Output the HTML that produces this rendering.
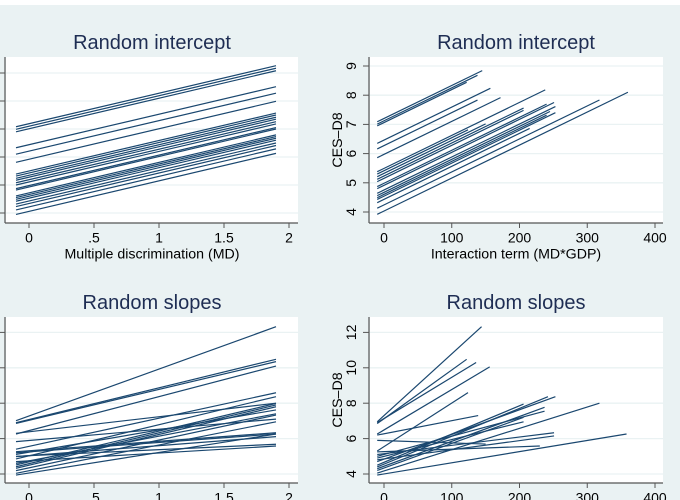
<!DOCTYPE html>
<html><head><meta charset="utf-8">
<style>
html,body{margin:0;padding:0;background:#eaf2f3;}
svg{display:block;font-family:"Liberation Sans",sans-serif;}
</style></head>
<body>
<svg id="chart" width="680" height="500" viewBox="0 0 680 500" xmlns="http://www.w3.org/2000/svg">
<rect x="0" y="0" width="680" height="500" fill="#eaf2f3"/>
<rect x="0" y="0" width="680" height="5" fill="#ffffff"/>
</svg>
<script>
// ---- data ----
const tlTicksX = [0, 0.5, 1, 1.5, 2];
const tlTickLabels = ["0", ".5", "1", "1.5", "2"];
const tlTicksY = [4, 5, 6, 7, 8, 9];
const tlSlope = 1.09;
const tlStarts = [7.08,6.99,6.90,6.33,6.10,5.81,5.39,5.32,5.24,5.17,5.08,5.00,4.87,4.82,4.61,4.55,4.49,4.42,4.32,4.23,4.11,3.95];

const trTicksX = [0, 100, 200, 300, 400];
const trTicksY = [4, 5, 6, 7, 8, 9];
const trSlope = 0.0113;
const trStarts = [7.09,7.01,6.95,6.35,6.16,5.86,5.38,5.30,5.21,5.12,5.04,4.87,4.64,4.56,4.49,4.43,4.32,4.13,3.92,4.80];
const trEndX   = [145,138,122,157,138,172,238,124,150,206,206,240,253,245,240,253,215,318,360,251];

const blTicksY = [4, 6, 8, 10, 12];
const blStarts = [7.01,6.90,6.86,6.26,6.30,5.83,5.40,5.26,5.11,4.98,4.85,4.51,4.41,4.32,4.19,4.04,3.94,5.00,4.70,5.20,4.60];
const blEnds   = [12.32,10.48,10.35,10.10,8.00,7.10,8.59,6.33,7.62,6.11,8.37,7.99,7.90,7.80,7.33,6.95,6.26,5.68,5.58,6.26,7.40];

const brTicksY = [4, 6, 8, 10, 12];
const brStarts = [6.95,6.85,6.90,6.26,5.30,6.20,4.50,4.40,4.70,4.30,5.00,4.90,4.05,5.10,4.80,3.94,5.25,5.90,4.20];
const brEndX   = [144,122,136,156,124,139,206,242,253,237,237,206,318,251,251,358,230,150,206];
const brEndY   = [12.32,10.48,10.30,10.05,8.60,7.30,7.95,8.37,8.37,7.77,7.55,6.95,8.00,6.33,6.15,6.26,5.58,5.69,7.20];

const svg = document.getElementById('chart');
const NS = 'http://www.w3.org/2000/svg';
const LINE = '#1a476f';
function mk(tag, attrs, parent){
  const e = document.createElementNS(NS, tag);
  for (const k in attrs) e.setAttribute(k, attrs[k]);
  (parent||svg).appendChild(e);
  return e;
}
function panel(o){
  const g = mk('g', {});
  
  
  const sx = v => o.x0 + (v - o.xv0) * o.xs;
  const sy = v => o.y0 - (v - o.yv0) * o.ys;
  const bg = mk('rect', {x:o.left+1, y:o.top, width:o.right-o.left-1, height:o.bottom-o.top, fill:'#fff'}, g);
  
  
  o.yticks.forEach(v => {
    const gl = mk('line', {x1:o.left+1, x2:o.right, y1:sy(v), y2:sy(v), stroke:'#eaf2f3', 'stroke-width':1.3}, g);
    
    
    const tk = mk('line', {x1:o.left-6, x2:o.left, y1:sy(v), y2:sy(v), stroke:'#555', 'stroke-width':1}, g);
    
    
    if (o.ylabels){
      const cx = o.left-18, cy = sy(v);
      const t = mk('text', {x:cx, y:cy+5, 'text-anchor':'middle', 'font-size':14, fill:'#000', transform:`rotate(-90 ${cx} ${cy})`}, g);
      t.textContent = String(v);
      
      
    }
  });
  const ya = mk('line', {x1:o.left, x2:o.left, y1:o.top, y2:o.bottom, stroke:'#555', 'stroke-width':1.2}, g);
  
  
  const xa = mk('line', {x1:o.left, x2:o.right, y1:o.bottom, y2:o.bottom, stroke:'#555', 'stroke-width':1.2}, g);
  
  
  o.xticks.forEach((v,i) => {
    const tk = mk('line', {x1:sx(v), x2:sx(v), y1:o.bottom, y2:o.bottom+5, stroke:'#555', 'stroke-width':1}, g);
    
    
    const t = mk('text', {x:sx(v), y:o.bottom+19.5, 'text-anchor':'middle', 'font-size':14, fill:'#000'}, g);
    t.textContent = o.xlabels[i];
    
    
  });
  o.segs.forEach(s => {
    const l = mk('line', {x1:sx(s[0]), y1:sy(s[1]), x2:sx(s[2]), y2:sy(s[3]), stroke:LINE, 'stroke-width':1.2}, g);
    
    
  });
  const tt = mk('text', {x:o.titleX, y:o.top-8, 'text-anchor':'middle', 'font-size':20, fill:'#1e2d53'}, g);
  tt.textContent = o.title;
  
  
  if (o.xtitle){
    const xt = mk('text', {x:o.titleX, y:o.bottom+35.5, 'text-anchor':'middle', 'font-size':14.2, fill:'#000'}, g);
    xt.textContent = o.xtitle;
    
    
  }
  if (o.ytitle){
    const cx = o.left-32, cy = (o.top+o.bottom)/2;
    const yt = mk('text', {x:cx, y:cy+5, 'text-anchor':'middle', 'font-size':14.2, fill:'#000', transform:`rotate(-90 ${cx} ${cy})`}, g);
    yt.textContent = o.ytitle;
    
    
  }
}
const tlLab = tlTickLabels;
// top-left
panel({name:'panel-random-intercept-md', left:5, right:298, top:57, bottom:223,
  x0:29, xv0:0, xs:130, y0:213, yv0:4, ys:28,
  xticks:tlTicksX, xlabels:tlLab, yticks:tlTicksY, ylabels:false,
  segs: tlStarts.map(s => [-0.1, s, 1.9, s + tlSlope*2]),
  title:'Random intercept', titleX:152, xtitle:'Multiple discrimination (MD)'});
// top-right
panel({name:'panel-random-intercept-interaction', left:369, right:663, top:57, bottom:223,
  x0:384, xv0:0, xs:0.6775, y0:212, yv0:4, ys:29.2,
  xticks:trTicksX, xlabels:trTicksX.map(String), yticks:trTicksY, ylabels:true,
  segs: trStarts.map((s,i) => [-10, s, trEndX[i], s + trSlope*(trEndX[i]+10)]),
  title:'Random intercept', titleX:516, xtitle:'Interaction term (MD*GDP)', ytitle:'CES–D8'});
// bottom-left
panel({name:'panel-random-slopes-md', left:5, right:298, top:317, bottom:483,
  x0:29, xv0:0, xs:130, y0:474, yv0:4, ys:17.7,
  xticks:tlTicksX, xlabels:tlLab, yticks:blTicksY, ylabels:false,
  segs: blStarts.map((s,i) => [-0.1, s, 1.9, blEnds[i]]),
  title:'Random slopes', titleX:152});
// bottom-right
panel({name:'panel-random-slopes-interaction', left:369, right:663, top:317, bottom:483,
  x0:384, xv0:0, xs:0.6775, y0:474, yv0:4, ys:17.7,
  xticks:trTicksX, xlabels:trTicksX.map(String), yticks:brTicksY, ylabels:true,
  segs: brStarts.map((s,i) => [-10, s, brEndX[i], brEndY[i]]),
  title:'Random slopes', titleX:516, ytitle:'CES–D8'});
</script>
</body></html>
